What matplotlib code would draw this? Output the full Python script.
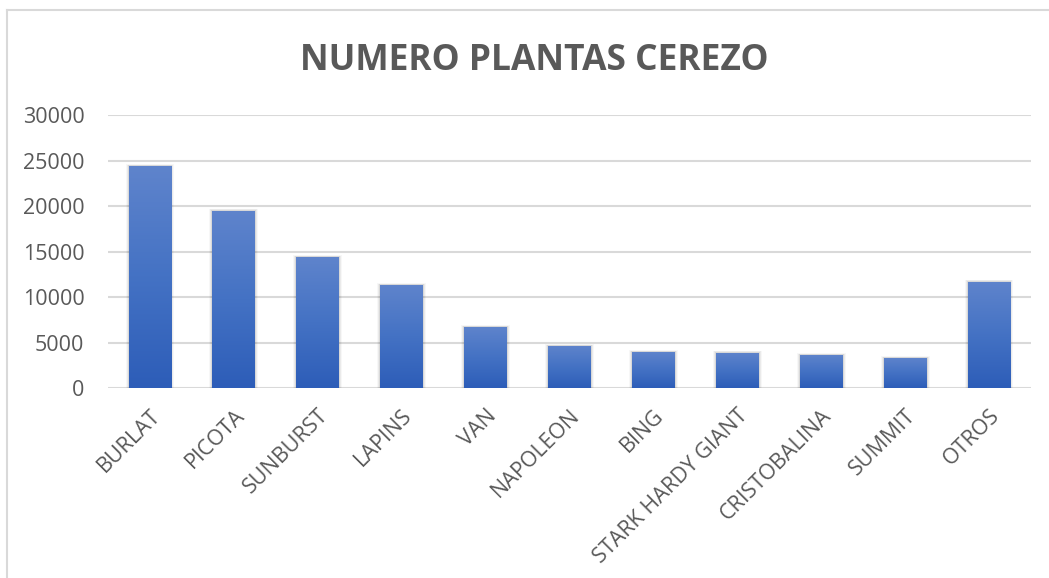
import numpy as np
import matplotlib
matplotlib.use("Agg")
import matplotlib.pyplot as plt
from matplotlib.patches import Rectangle
from matplotlib.colors import LinearSegmentedColormap

# Data
variedades = ["BURLAT", "PICOTA", "SUNBURST", "LAPINS", "VAN", "NAPOLEON", "BING",
              "STARK HARDY GIANT", "CRISTOBALINA", "SUMMIT", "OTROS"]
plantas = [24400, 19500, 14400, 11350, 6750, 4650, 4000, 3900, 3650, 3350, 11700]
yticks = [0, 5000, 10000, 15000, 20000, 25000, 30000]

plt.rcParams["font.family"] = ["Open Sans", "DejaVu Sans"]

fig = plt.figure(figsize=(10.49, 5.78), dpi=100)
ax = fig.add_axes([108 / 1049, 1 - 388.3 / 578, 923 / 1049, (388.3 - 115) / 578])

# chart border (only left and top visible in the crop)
fig.add_artist(plt.Line2D([7 / 1049, 7 / 1049], [0, 1 - 10 / 578], transform=fig.transFigure,
                          color="#d9d9d9", lw=1.5))
fig.add_artist(plt.Line2D([7 / 1049, 1], [1 - 10 / 578, 1 - 10 / 578], transform=fig.transFigure,
                          color="#d9d9d9", lw=1.5))

x = np.arange(len(variedades))
w = 0.51
cmap = LinearSegmentedColormap.from_list("grad", ["#2d5db8", "#4472c4", "#5f84cc"])
grad = np.linspace(0, 1, 256).reshape(-1, 1)

for xi, v in zip(x, plantas):
    # soft shadow
    for k, a in enumerate([0.07, 0.05, 0.03]):
        off = 0.012 * (k + 1)
        ax.add_patch(Rectangle((xi - w / 2 - off, 0), w + 2 * off, v + 70 * (k + 1),
                               facecolor="black", alpha=a, lw=0, zorder=2))
    bar = ax.bar(xi, v, width=w, color="#4472c4", zorder=3)[0]
    im = ax.imshow(grad, extent=(xi - w / 2, xi + w / 2, 0, v), origin="lower",
                   cmap=cmap, aspect="auto", zorder=4)
    im.set_clip_path(bar)

ax.set_xlim(-0.5, len(variedades) - 0.5)
ax.set_ylim(0, 30000)
ax.set_yticks(yticks)
ax.set_yticklabels([str(t) for t in yticks])
ax.set_xticks(x)
ax.set_xticklabels(variedades, rotation=45, ha="right", rotation_mode="anchor")
ax.tick_params(axis="both", length=0, labelsize=15.5, colors="#595959")
ax.tick_params(axis="y", pad=17)
ax.tick_params(axis="x", pad=12)
ax.grid(axis="y", color="#d9d9d9", lw=1.5, zorder=0)
ax.set_axisbelow(True)
for s in ax.spines.values():
    s.set_visible(False)

fig.text(534 / 1049, 1 - 61 / 578, "NUMERO PLANTAS CEREZO", ha="center", va="center",
         fontsize=25.5, fontweight="bold", color="#595959")

fig.savefig("out.png", dpi=100)
